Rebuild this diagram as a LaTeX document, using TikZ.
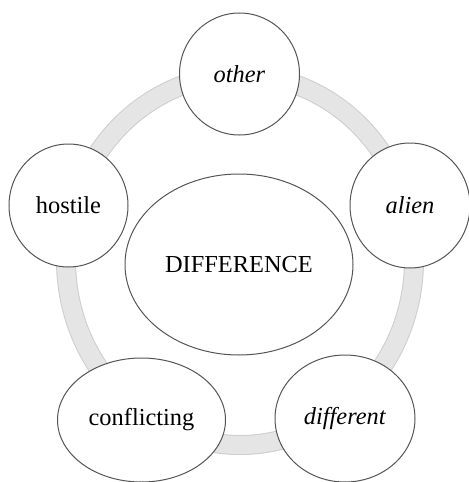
\documentclass[tikz,border=0pt]{standalone}
\usepackage{fontspec}
\setmainfont{Liberation Serif}
\usetikzlibrary{shapes.geometric}
\definecolor{ringgray}{RGB}{229,229,229}
\definecolor{ringedge}{RGB}{205,205,205}
\definecolor{rimgray}{RGB}{85,85,85}

\begin{document}
\begin{tikzpicture}[x=0.5pt,y=-0.5pt,
  term/.style={ellipse,draw=rimgray,line width=0.5pt,fill=white,inner sep=0pt,
    font=\fontsize{12.2}{14}\selectfont}]
\useasboundingbox (0,0) rectangle (468,482);

% Ring behind the terms
\draw[ringedge,line width=10pt] (240,260) ellipse [x radius=174,y radius=185];
\draw[ringgray,line width=9pt] (240,260) ellipse [x radius=174,y radius=185];

% Centre
\node[term,minimum width=114pt,minimum height=90.5pt] (difference) at (239,264.5) {DIFFERENCE};

% Terms round the ring
\node[term,minimum width=60pt,minimum height=61pt] (other) at (239.5,74) {\textit{other}};
\node[term,minimum width=60pt,minimum height=62.5pt] (alien) at (410,205.5) {\textit{alien}};
\node[term,minimum width=70pt,minimum height=63.5pt] (different) at (345,418.5) {\textit{different}};
\node[term,minimum width=84pt,minimum height=62pt] (conflicting) at (141.5,420) {conflicting};
\node[term,minimum width=59.5pt,minimum height=61.5pt] (hostile) at (68.5,205.5) {hostile};
\end{tikzpicture}
\end{document}
